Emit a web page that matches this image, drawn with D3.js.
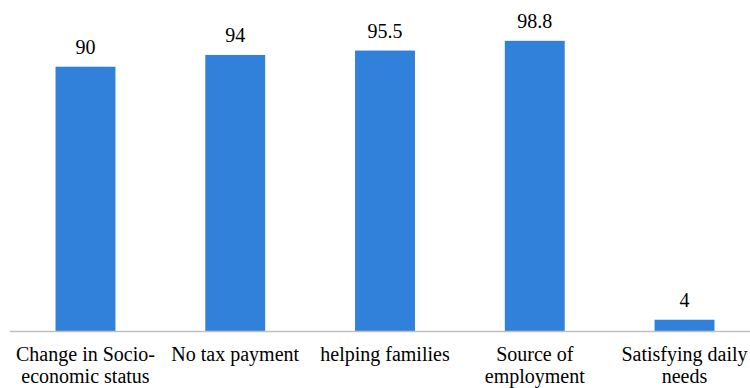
<!DOCTYPE html>
<html>
<head>
<meta charset="utf-8">
<script src="https://cdn.jsdelivr.net/npm/d3@7"></script>
</head>
<body style="margin:0">
<div id="chart"></div>
<script>
const categories = ["Change in Socio-economic status", "No tax payment", "helping families", "Source of employment", "Satisfying daily needs"];
const labelLines = [["Change in Socio-", "economic status"], ["No tax payment"], ["helping families"], ["Source of", "employment"], ["Satisfying daily", "needs"]];
const values = [90, 94, 95.5, 98.8, 4];

const width = 750;
const height = 388;

const svg = d3.select("#chart")
  .append("svg")
  .attr("width", width)
  .attr("height", height);

const x = d3.scaleBand()
  .domain(categories)
  .range([10.6, 759.4])
  .paddingInner(0.6)
  .paddingOuter(0.3);

const y = d3.scaleLinear()
  .domain([0, 100])
  .range([331.5, 37.3]);

// bars
svg.append("g")
  .selectAll("rect")
  .data(values)
  .enter()
  .append("rect")
  .attr("x", (d, i) => x(categories[i]))
  .attr("y", (d) => y(d))
  .attr("width", x.bandwidth())
  .attr("height", (d) => y(0) - y(d))
  .attr("fill", "#3180d9");

// baseline
svg.append("line")
  .attr("x1", 10)
  .attr("x2", width)
  .attr("y1", y(0))
  .attr("y2", y(0))
  .attr("stroke", "#bfbfbf")
  .attr("stroke-width", 1.5);

// value labels
svg.append("g")
  .selectAll("text")
  .data(values)
  .enter()
  .append("text")
  .attr("x", (d, i) => x(categories[i]) + x.bandwidth() / 2)
  .attr("y", (d) => y(d) - 12.5)
  .attr("font-size", 20)
  .style("font-family", "'Liberation Serif'")
  .attr("text-anchor", "middle")
  .text((d) => d);

// category labels, one text per line
const lines = [];
labelLines.forEach((ls, i) => ls.forEach((t, j) => lines.push({ c: categories[i], t: t, j: j })));

svg.append("g")
  .selectAll("text")
  .data(lines)
  .enter()
  .append("text")
  .attr("x", (d) => x(d.c) + x.bandwidth() / 2)
  .attr("y", (d) => 361 + d.j * 22)
  .attr("font-size", 20)
  .style("font-family", "'Liberation Serif'")
  .attr("text-anchor", "middle")
  .text((d) => d.t);
</script>
</body>
</html>
